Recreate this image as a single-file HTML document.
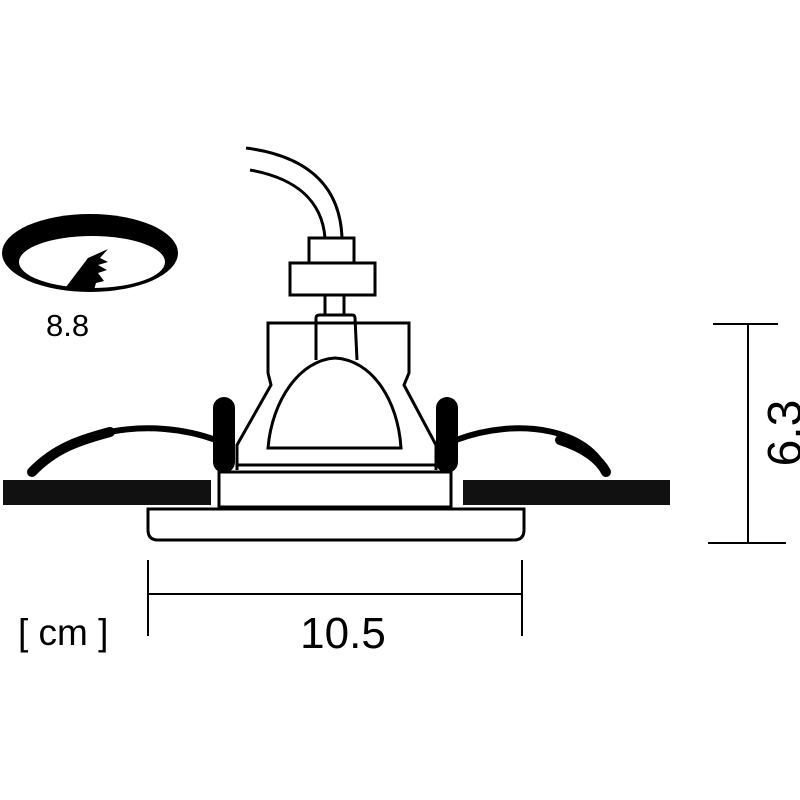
<!DOCTYPE html>
<html><head><style>html,body{margin:0;padding:0;background:#fff}svg{display:block}</style></head>
<body>
<svg width="800" height="800" viewBox="0 0 800 800" xmlns="http://www.w3.org/2000/svg" font-family="Liberation Sans, sans-serif">
<!-- ring icon -->
<ellipse cx="90" cy="253" rx="88" ry="39" fill="#000"/>
<ellipse cx="92" cy="262" rx="73" ry="26" fill="#fff"/>
<path d="M66 287 L88 258 L108 249 L100 258 L108 262 L98 265 L107 270 L98 273 L104 281 L96 283 L94 290 Z" fill="#000"/>
<text x="46" y="336" font-size="31">8.8</text>

<!-- ceiling plates -->
<rect x="3" y="480" width="208" height="25" fill="#111"/>
<rect x="463" y="480" width="207" height="25" fill="#111"/>

<!-- springs -->
<path d="M32 472 C70 430 150 416 216 440" stroke="#000" stroke-width="6" fill="none" stroke-linecap="round"/>
<path d="M32 472 C55 448 80 440 110 432" stroke="#000" stroke-width="10" fill="none" stroke-linecap="round"/>
<path d="M456 440 C520 416 590 430 606 472" stroke="#000" stroke-width="6" fill="none" stroke-linecap="round"/>
<path d="M560 440 C585 448 600 460 606 472" stroke="#000" stroke-width="10" fill="none" stroke-linecap="round"/>

<!-- clips -->
<rect x="213" y="397" width="22" height="76" rx="11" fill="#000"/>
<rect x="436" y="397" width="22" height="76" rx="11" fill="#000"/>

<!-- bezel -->
<path d="M148 509 H524 V530 Q524 540 514 540 H158 Q148 540 148 530 Z" fill="#fff" stroke="#000" stroke-width="3"/>

<!-- housing block -->
<rect x="219" y="472" width="232" height="35" fill="#fff" stroke="#000" stroke-width="3"/>

<!-- body -->
<path d="M237 470 L237 445 L271 385 L268 373 L268 323 L409 323 L409 373 L404 385 L436 445 L436 470" fill="#fff" stroke="#000" stroke-width="3"/>
<line x1="237" y1="465" x2="436" y2="465" stroke="#000" stroke-width="3"/>
<!-- neck -->
<path d="M316 360 V318 Q316 315 320 315 H352 Q355 315 355 318 L357 360" fill="#fff" stroke="#000" stroke-width="3"/>
<line x1="316" y1="323" x2="355" y2="323" stroke="#000" stroke-width="3"/>
<!-- reflector -->
<path d="M268 448 C272 400 300 360 335 358 C372 360 398 400 401 448 Z" fill="#fff" stroke="#000" stroke-width="3"/>
<!-- pins -->
<line x1="325" y1="295" x2="325" y2="316" stroke="#000" stroke-width="3"/>
<line x1="344" y1="295" x2="344" y2="316" stroke="#000" stroke-width="3"/>
<!-- connector -->
<rect x="309" y="238" width="45" height="25" fill="#fff" stroke="#000" stroke-width="3"/>
<rect x="290" y="263" width="85" height="32" fill="#fff" stroke="#000" stroke-width="3"/>
<!-- wires -->
<path d="M246 148 C300 155 340 180 342 238" stroke="#000" stroke-width="3" fill="none"/>
<path d="M250 170 C295 178 322 200 325 238" stroke="#000" stroke-width="3" fill="none"/>

<!-- vertical dimension -->
<line x1="748" y1="324" x2="748" y2="543" stroke="#000" stroke-width="2"/>
<line x1="713" y1="324" x2="778" y2="324" stroke="#000" stroke-width="2"/>
<line x1="708" y1="543" x2="786" y2="543" stroke="#000" stroke-width="2"/>
<text transform="translate(801 433) rotate(-90)" text-anchor="middle" font-size="48">6.3</text>

<!-- horizontal dimension -->
<line x1="148" y1="594" x2="522" y2="594" stroke="#000" stroke-width="2"/>
<line x1="148" y1="560" x2="148" y2="636" stroke="#000" stroke-width="2"/>
<line x1="522" y1="560" x2="522" y2="636" stroke="#000" stroke-width="2"/>
<text x="343" y="648" text-anchor="middle" font-size="44">10.5</text>
<text x="18" y="645" font-size="37">[ cm ]</text>
</svg>
</body></html>
